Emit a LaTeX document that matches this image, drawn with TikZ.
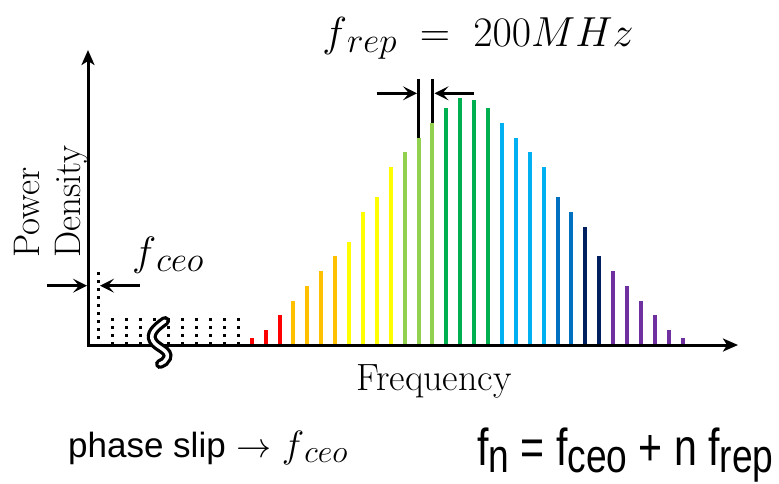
\RequirePackage{fix-cm}
\documentclass[tikz,border=0pt]{standalone}
\usepackage{fontspec}
\usepackage{graphicx}
\usepackage{tikz}
\usetikzlibrary{arrows.meta}
\newfontfamily\arialx{Liberation Sans}
\definecolor{redx}{HTML}{FF0000}
\definecolor{orangex}{HTML}{FFC000}
\definecolor{yellowx}{HTML}{FFFF00}
\definecolor{limex}{HTML}{92D050}
\definecolor{greenx}{HTML}{00B050}
\definecolor{cyanx}{HTML}{00B0F0}
\definecolor{bluex}{HTML}{0070C0}
\definecolor{navyx}{HTML}{002060}
\definecolor{purplex}{HTML}{7030A0}
\newcommand{\lowsub}[3]{\raisebox{-#1pt}{\fontsize{#2}{#2}\selectfont #3}}
\tikzset{
  axis/.style={{Stealth[length=15pt,width=13pt,inset=4pt]}-{Stealth[length=15pt,width=13pt,inset=4pt]},line width=3pt},
  bar/.style={line width=4pt},
  comb/.style={line width=3pt,dash pattern=on 3pt off 5pt},
  repline/.style={line width=3.5pt},
  dimarr/.style={-{Stealth[length=14pt,width=14pt,inset=6pt]},line width=3.5pt},
  lbl/.style={inner sep=0pt}
}

\begin{document}
\begin{tikzpicture}[x=1pt,y=-1pt]
\useasboundingbox (0,0) rectangle (779,483);
\coordinate (origin) at (88,345);
\coordinate (ytip) at (88,50);
\coordinate (xtip) at (738,345);
% comb lines
\foreach \i/\h/\col in {0/338.3/redx,1/330/redx,2/315.3/redx,3/300.7/orangex,4/286/orangex,
  5/271/orangex,6/256/orangex,7/241.7/yellowx,8/212/yellowx,9/197/yellowx,10/167.3/yellowx,
  11/152.3/limex,12/137.7/limex,13/123/limex,14/108.3/greenx,15/98.3/greenx,16/100/greenx,
  17/108.3/greenx,18/123/cyanx,19/137.7/cyanx,20/152.3/cyanx,21/167.3/cyanx,22/197/bluex,
  23/212/bluex,24/226.7/navyx,25/256/navyx,26/271/purplex,27/286/purplex,28/300.7/purplex,
  29/315.3/purplex,30/330/purplex,31/338.3/purplex}
  \draw[bar,\col] (251.7+13.9*\i,345) -- (251.7+13.9*\i,\h);
% dotted part near zero
\draw[comb] (98.7,272) -- (98.7,345);
\foreach \k in {1,...,10}
  \draw[comb] (98.7+14*\k,318) -- (98.7+14*\k,345);
\draw[axis] (ytip) -- (origin) -- (xtip);
% axis break
\draw[line width=10pt,line cap=round] (165,321) .. controls (155,328) and (149,334) .. (153,341)
  .. controls (157,348) and (170,350) .. (167,358) .. controls (166,361) and (163,363) .. (160,364);
\draw[line width=3.5pt,white,line cap=round] (165,321) .. controls (155,328) and (149,334) .. (153,341)
  .. controls (157,348) and (170,350) .. (167,358) .. controls (166,361) and (163,363) .. (160,364);
% f_ceo
\coordinate (ceoA) at (46.7,285.7);
\coordinate (ceoB) at (87,285.7);
\coordinate (ceoC) at (140,285.7);
\coordinate (ceoD) at (100,285.7);
\draw[dimarr] (ceoA) -- (ceoB);
\draw[dimarr] (ceoC) -- (ceoD);
\node[lbl,anchor=base west] (ceo) at (132,265)
  {{\fontsize{41}{41}\selectfont$f$}\lowsub{6}{35}{$ceo$}};
% f_rep
\coordinate (repL) at (418.7,79);
\coordinate (repR) at (432.7,79);
\draw[repline] (repL) -- (418.7,137.7);
\draw[repline] (repR) -- (432.7,123);
\coordinate (repA) at (376.7,93.3);
\coordinate (repB) at (417,93.3);
\coordinate (repC) at (474,93.3);
\coordinate (repD) at (434.5,93.3);
\draw[dimarr] (repA) -- (repB);
\draw[dimarr] (repC) -- (repD);
\node[lbl,anchor=base] (rep) at (478,46)
  {{\fontsize{42}{42}\selectfont$f$}\lowsub{6}{35}{$rep$}{\fontsize{42}{42}\selectfont$\;\;=\;200MHz$}};
% labels
\node[lbl,anchor=base west] (freq) at (356,390) {\fontsize{38}{38}\selectfont Frequency};
\node[lbl,rotate=90,anchor=south west,align=left,font=\fontsize{37}{41}\selectfont] (pd) at (88,258)
  {Power\\Density};
\node[lbl,anchor=base west] (slip) at (68,457)
  {\fontsize{35}{35}\selectfont{\arialx phase slip} $\rightarrow$
   {\fontsize{38}{38}\selectfont$f$}\lowsub{5}{32}{$ceo$}};
\node[lbl,anchor=base west] (fn) at (477,465)
  {\scalebox{0.79}[1]{\arialx\fontsize{52}{52}\selectfont
   f\lowsub{7}{47}{n} = f\lowsub{7}{47}{ceo} + n f\lowsub{7}{47}{rep}}};
\end{tikzpicture}
\end{document}
